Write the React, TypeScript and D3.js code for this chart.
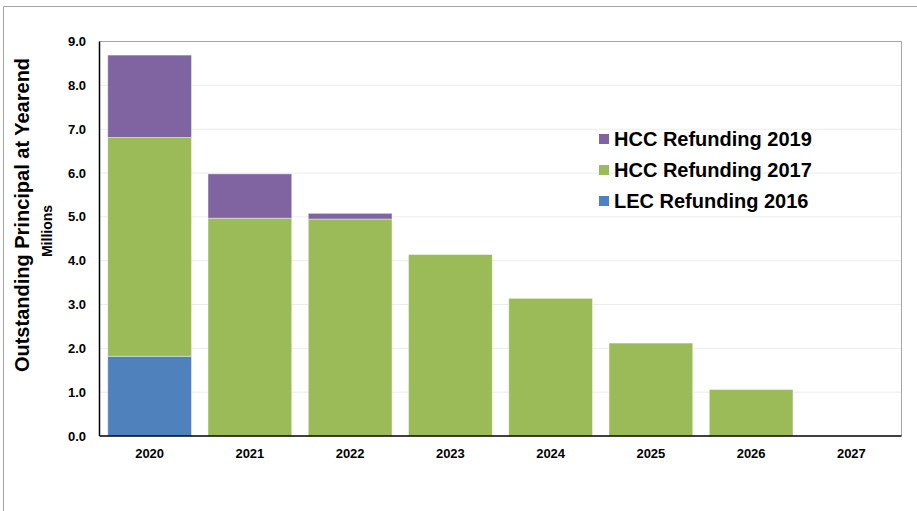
import React from "react";
import * as d3 from "d3";

const years = ["2020", "2021", "2022", "2023", "2024", "2025", "2026", "2027"];
const lec2016 = [1.82, 0, 0, 0, 0, 0, 0, 0];
const hcc2017 = [4.99, 4.97, 4.95, 4.14, 3.14, 2.12, 1.06, 0];
const hcc2019 = [1.88, 1.01, 0.13, 0, 0, 0, 0, 0];
const yTicks = [0, 1, 2, 3, 4, 5, 6, 7, 8, 9];

const seriesNames = ["LEC Refunding 2016", "HCC Refunding 2017", "HCC Refunding 2019"];
const seriesColors = ["#4f81bd", "#9bbb59", "#8064a2"];

const W = 917;
const H = 511;
const M = { left: 99.5, top: 41.5, right: 901.5, bottom: 436 };
const FONT = "'Liberation Sans', Arial, sans-serif";

export default function App() {
  const x = d3.scaleBand<string>().domain(years).range([M.left, M.right]).paddingInner(0.165).paddingOuter(0.0825);
  const y = d3.scaleLinear().domain([0, 9]).range([M.bottom, M.top]);

  const rows = years.map((yr, i) => ({ year: yr, s0: lec2016[i], s1: hcc2017[i], s2: hcc2019[i] }));
  const stacked = d3.stack<any>().keys(["s0", "s1", "s2"])(rows);

  const legendOrder = [2, 1, 0];

  return (
    <svg width={W} height={H} style={{ display: "block", position: "absolute", left: 0, top: 0 }} fontFamily={FONT}>
      <rect x={0} y={0} width={W} height={H} fill="#fff" />
      {/* outer frame */}
      <line x1={3.5} y1={6.5} x2={W} y2={6.5} stroke="#a6a6a6" />
      <line x1={3.5} y1={6.5} x2={3.5} y2={H} stroke="#a6a6a6" />
      {/* gridlines */}
      {yTicks.slice(1, -1).map((t) => (
        <line key={t} x1={M.left} x2={M.right} y1={y(t)} y2={y(t)} stroke="#ececec" />
      ))}
      {/* plot frame */}
      <line x1={M.left} x2={M.right} y1={M.top} y2={M.top} stroke="#a6a6a6" />
      <line x1={M.right} x2={M.right} y1={M.top} y2={M.bottom} stroke="#a6a6a6" />
      {/* bars */}
      {stacked.map((layer, si) => (
        <g key={si} fill={seriesColors[si]}>
          {layer.map((d, i) =>
            d[1] - d[0] > 0 ? (
              <rect
                key={i}
                x={x(years[i])!}
                width={x.bandwidth()}
                y={y(d[1])}
                height={y(d[0]) - y(d[1])}
                stroke="#ffffff"
                strokeOpacity={0.5}
                strokeWidth={0.8}
              />
            ) : null
          )}
        </g>
      ))}
      {/* axes */}
      <line x1={M.left} x2={M.left} y1={M.top} y2={M.bottom} stroke="#000" strokeWidth={1.5} />
      <line x1={M.left} x2={M.right} y1={M.bottom} y2={M.bottom} stroke="#000" strokeWidth={1.5} />
      {yTicks.map((t) => (
        <text key={t} x={86} y={y(t)} dy="0.35em" textAnchor="end" fontSize={13} fontWeight="bold" fill="#000">
          {t.toFixed(1)}
        </text>
      ))}
      {years.map((yr) => (
        <text key={yr} x={x(yr)! + x.bandwidth() / 2} y={453} dy="0.35em" textAnchor="middle" fontSize={13} fontWeight="bold" fill="#000">
          {yr}
        </text>
      ))}
      {/* axis titles */}
      <text transform="translate(29,215) rotate(-90)" textAnchor="middle" fontSize={20} fontWeight="bold" fill="#000">
        Outstanding Principal at Yearend
      </text>
      <text transform="translate(52,231) rotate(-90)" textAnchor="middle" fontSize={14} fontWeight="bold" fill="#000">
        Millions
      </text>
      {/* legend */}
      {legendOrder.map((si, k) => {
        const cy = 139 + k * 31;
        return (
          <g key={si}>
            <rect x={599} y={cy - 5} width={10} height={10} fill={seriesColors[si]} />
            <text x={614} y={cy} dy="0.36em" fontSize={20} fontWeight="bold" fill="#000">
              {seriesNames[si]}
            </text>
          </g>
        );
      })}
    </svg>
  );
}
